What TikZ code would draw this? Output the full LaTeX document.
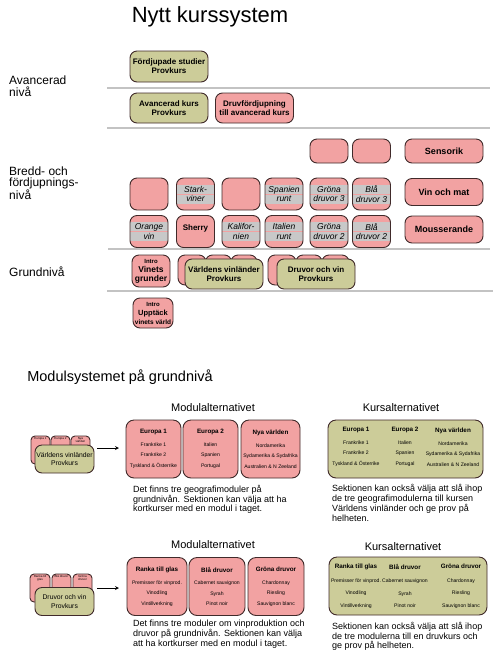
\documentclass[tikz,border=0pt]{standalone}
\usepackage{fontspec}
\setmainfont{Liberation Sans}
\usetikzlibrary{positioning}
\definecolor{rosa}{RGB}{242,162,162}
\definecolor{oliv}{RGB}{204,204,153}
\definecolor{kant}{RGB}{64,42,42}
\definecolor{linjegra}{RGB}{195,195,195}
\definecolor{bandgra}{RGB}{200,200,200}
\newcommand{\modrubrik}[1]{{\bfseries\fontsize{6.3}{10.5}\selectfont #1}}
\newcommand{\smal}[1]{{\fontsize{6}{7}\selectfont #1}}

\begin{document}
\begin{tikzpicture}
[
    x=1pt, y=-1pt,
    box/.style={draw=kant, line width=0.9pt, rounded corners=7pt, inner sep=0pt, align=center, font=\bfseries\fontsize{8}{9}\selectfont},
    kurs/.style={box, fill=oliv},
    modul/.style={box, fill=rosa},
    liten/.style={minimum width=38pt, minimum height=32pt},
    bred/.style={minimum width=78pt, minimum height=30pt},
    hoger/.style={modul, minimum width=78pt, font=\bfseries\fontsize{9}{10}\selectfont},
    band/.style={modul, liten, font=\itshape\fontsize{8.5}{9.5}\selectfont,
        path picture={
            \fill[bandgra, sharp corners] ([yshift=0.5pt]path picture bounding box.west) rectangle ([yshift=9.5pt]path picture bounding box.east);
            \fill[bandgra, sharp corners] ([yshift=-0.5pt]path picture bounding box.west) rectangle ([yshift=-9.5pt]path picture bounding box.east);
        }},
    bak/.style={modul, rounded corners=4pt, minimum height=28pt},
    framre/.style={kurs, minimum width=59pt, minimum height=28pt, font=\fontsize{6.8}{8.5}\selectfont},
    modlada/.style={modul, minimum height=58pt, rounded corners=8pt, font=\fontsize{5.1}{10.5}\selectfont},
    kurslada/.style={kurs, minimum height=58pt, rounded corners=8pt},
    kolumn/.style={align=center, inner sep=0pt, font=\fontsize{5.1}{10.5}\selectfont},
    etikett/.style={inner sep=0pt, align=center, font=\fontsize{3}{3.5}\selectfont},
    niva/.style={anchor=west, align=left, inner sep=0pt, font=\fontsize{12}{12}\selectfont},
    rubrik/.style={inner sep=0pt, font=\fontsize{11}{13}\selectfont},
    brodtext/.style={anchor=north west, align=left, inner sep=0pt, font=\fontsize{9}{9.7}\selectfont},
    skilje/.style={draw=linjegra, line width=1.5pt},
    pil/.style={->, >=stealth, line width=0.8pt},
]
\useasboundingbox (0,0) rectangle (500,657);

\node[inner sep=0pt, font=\fontsize{22}{26}\selectfont] (titel) at (210,17) {Nytt kurssystem};
\node[niva] (avancerad) at (9,86) {Avancerad\\nivå};
\node[niva, font=\fontsize{12}{11}\selectfont] (bredd) at (9,183) {Bredd- och\\fördjupnings-\\nivå};
\node[niva] (grund) at (9,272) {Grundnivå};

\draw[skilje] (107,88) -- (490,88);
\draw[skilje] (107,128) -- (490,128);
\draw[skilje] (108,249) -- (490,249);
\draw[skilje] (107,291) -- (493,291);

\node[kurs, bred, minimum height=31pt] (fordjupade) at (169,66.5) {Fördjupade studier\\Provkurs};
\node[kurs, bred] (avkurs) at (169,108) {Avancerad kurs\\Provkurs};
\node[modul, bred] (druvford) at (254.5,108) {Druvfördjupning\\till avancerad kurs};

\node[modul, liten, minimum height=24pt] (tom1) at (329,151) {};
\node[modul, liten, minimum height=24pt] (tom2) at (371.5,151) {};
\node[hoger, minimum height=24pt] (sensorik) at (444,151) {Sensorik};
\node[modul, liten] (tom3) at (149,194) {};
\node[band] (stark) at (195.5,194) {Stark-\\viner};
\node[modul, liten] (tom4) at (241,194) {};
\node[band] (spanien) at (284,194) {Spanien\\runt};
\node[band] (grona3) at (329,194) {Gröna\\druvor 3};
\node[band] (bla3) at (371.5,194) {Blå\\druvor 3};
\node[hoger, minimum height=27pt] (vinmat) at (444,192) {Vin och mat};
\node[band] (orange) at (149,231.5) {Orange\\vin};
\node[modul, liten, text depth=8pt] (sherry) at (195.5,231.5) {Sherry};
\node[band] (kalifornien) at (241,231.5) {Kalifor-\\nien};
\node[band] (italien) at (284,231.5) {Italien\\runt};
\node[band] (grona2) at (329,231.5) {Gröna\\druvor 2};
\node[band] (bla2) at (371.5,231.5) {Blå\\druvor 2};
\node[hoger, minimum height=27pt] (mousserande) at (444,229.5) {Mousserande};

\node[modul, liten, font=\bfseries\fontsize{8.5}{9}\selectfont] (vinetsgrunder) at (151,271) {\smal{Intro}\\Vinets\\grunder};
\node[modul, minimum width=28pt, minimum height=30pt] (vlbak1) at (192,270) {};
\node[modul, minimum width=26pt, minimum height=30pt] (vlbak2) at (218.5,270) {};
\node[modul, minimum width=26pt, minimum height=30pt] (vlbak3) at (244,270) {};
\node[kurs, bred] (vinlander) at (224,274) {Världens vinländer\\Provkurs};
\node[modul, minimum width=28pt, minimum height=30pt] (dvbak1) at (282,270) {};
\node[modul, minimum width=26pt, minimum height=30pt] (dvbak2) at (309,270) {};
\node[modul, minimum width=27pt, minimum height=30pt] (dvbak3) at (335.5,270) {};
\node[kurs, bred] (druvorvin) at (316,274) {Druvor och vin\\Provkurs};
\node[modul, minimum width=40pt, minimum height=30pt] (upptack) at (153,313) {\smal{Intro}\\{\fontsize{7.5}{9}\selectfont Upptäck}\\{\fontsize{6.5}{9}\selectfont vinets värld}};

\node[inner sep=0pt, font=\fontsize{14.5}{17}\selectfont] (modulsystem) at (120,377) {Modulsystemet på grundnivå};
\node[rubrik] (modalt1) at (213,408) {Modulalternativet};
\node[rubrik] (kursalt1) at (401,408) {Kursalternativet};

\node[bak, minimum width=19pt] (eur1bak) at (40.5,450) {};
\node[etikett, below=1.5pt of eur1bak.north] (eur1txt) {Europa 1};
\node[bak, minimum width=19pt] (eur2bak) at (60.5,450) {};
\node[etikett, below=1.5pt of eur2bak.north] (eur2txt) {Europa 2};
\node[bak, minimum width=19pt] (nyabak) at (80.5,450) {};
\node[etikett, below=1.5pt of nyabak.north] (nyatxt) {Nya\\världen};
\node[framre] (vinlander2) at (64.5,459) {Världens vinländer\\Provkurs};
\coordinate (pil1start) at (97,448);
\coordinate (pil1slut) at (119,448);
\draw[pil] (pil1start) -- (pil1slut);

\node[modlada, minimum width=55pt] (europa1) at (153.5,449) {\modrubrik{Europa 1}\\[2pt]Frankrike 1\\Frankrike 2\\Tyskland \& Österrike};
\node[modlada, minimum width=55pt] (europa2) at (210.5,449) {\modrubrik{Europa 2}\\[2pt]Italien\\Spanien\\Portugal};
\node[modlada, minimum width=59pt] (nyavarlden) at (270.5,449) {\modrubrik{Nya världen}\\[2pt]Nordamerika\\Sydamerika \& Sydafrika\\Australien \& N Zeeland};

\node[kurslada, minimum width=155pt] (kurslada1) at (405.5,449) {};
\node[kolumn] (k1a) at (356,447) {\modrubrik{Europa 1}\\[2pt]Frankrike 1\\Frankrike 2\\Tyskland \& Österrike};
\node[kolumn] (k1b) at (405,447) {\modrubrik{Europa 2}\\[2pt]Italien\\Spanien\\Portugal};
\node[kolumn] (k1c) at (453,447) {\modrubrik{Nya världen}\\[2pt]Nordamerika\\Sydamerika \& Sydafrika\\Australien \& N Zeeland};

\node[brodtext] (text1) at (133,485) {Det finns tre geografimoduler på\\grundnivån. Sektionen kan välja att ha\\kortkurser med en modul i taget.};
\node[brodtext] (text2) at (332,484.5) {Sektionen kan också välja att slå ihop\\de tre geografimodulerna till kursen\\Världens vinländer och ge prov på\\helheten.};

\node[rubrik] (modalt2) at (213,545) {Modulalternativet};
\node[rubrik] (kursalt2) at (403,547) {Kursalternativet};

\node[bak, minimum width=20pt] (rankabak) at (40,588) {};
\node[etikett, below=1.5pt of rankabak.north] (rankatxt) {Ranka till\\glas};
\node[bak, minimum width=19pt] (blabak) at (61.5,588) {};
\node[etikett, below=1.5pt of blabak.north] (blatxt) {Blå druvor};
\node[bak, minimum width=19pt] (gronabak) at (82.5,588) {};
\node[etikett, below=1.5pt of gronabak.north] (gronatxt) {Gröna\\druvor};
\node[framre] (druvorvin2) at (64.5,601.5) {Druvor och vin\\Provkurs};
\coordinate (pil2start) at (97,588);
\coordinate (pil2slut) at (119,588);
\draw[pil] (pil2start) -- (pil2slut);

\node[modlada, minimum width=60pt] (ranka) at (157,586.5) {\modrubrik{Ranka till glas}\\[2pt]Premisser för vinprod.\\Vinodling\\Vintillverkning};
\node[modlada, minimum width=56pt] (blaa) at (217,586.5) {\modrubrik{Blå druvor}\\[2pt]Cabernet sauvignon\\Syrah\\Pinot noir};
\node[modlada, minimum width=56pt] (grona) at (276,586.5) {\modrubrik{Gröna druvor}\\[2pt]Chardonnay\\Riesling\\Sauvignon blanc};

\node[kurslada, minimum width=158pt] (kurslada2) at (408,586) {};
\node[kolumn, font=\fontsize{5.1}{12.5}\selectfont] (k2a) at (356,586) {\modrubrik{Ranka till glas}\\[1pt]Premisser för vinprod.\\Vinodling\\Vintillverkning};
\node[kolumn, font=\fontsize{5.1}{12.5}\selectfont] (k2b) at (405,586) {\modrubrik{Blå druvor}\\[1pt]Cabernet sauvignon\\Syrah\\Pinot noir};
\node[kolumn, font=\fontsize{5.1}{12.5}\selectfont] (k2c) at (461,586) {\modrubrik{Gröna druvor}\\[1pt]Chardonnay\\Riesling\\Sauvignon blanc};

\node[brodtext] (text3) at (133,620) {Det finns tre moduler om vinproduktion och\\druvor på grundnivån. Sektionen kan välja\\att ha kortkurser med en modul i taget.};
\node[brodtext] (text4) at (332,622) {Sektionen kan också välja att slå ihop\\de tre modulerna till en druvkurs och\\ge prov på helheten.};
\end{tikzpicture}
\end{document}
